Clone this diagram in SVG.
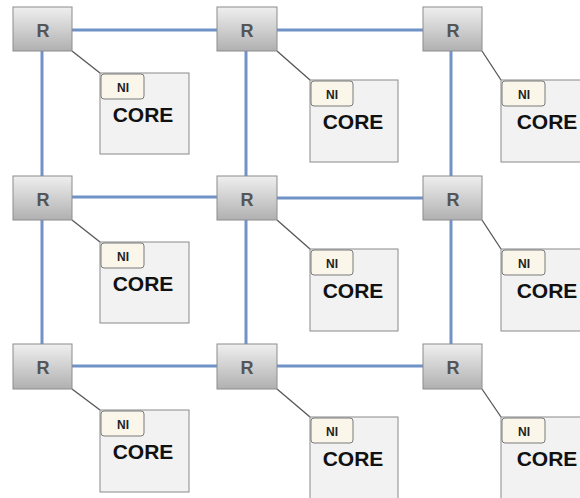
<svg xmlns="http://www.w3.org/2000/svg" width="580" height="498" viewBox="0 0 580 498">
<defs>
<linearGradient id="rg" x1="0" y1="0" x2="0" y2="1">
<stop offset="0" stop-color="#efefef"/>
<stop offset="1" stop-color="#b0b0b0"/>
</linearGradient>
</defs>
<style>
.link{stroke:#7092c6;stroke-width:3;fill:none}
.tie{stroke:#555;stroke-width:1.3;fill:none}
.router{fill:url(#rg);stroke:#8c8c8c;stroke-width:1}
.rt{font-family:"Liberation Sans",Arial,sans-serif;font-weight:bold;font-size:18px;fill:#555;text-anchor:middle}
.core{fill:#f2f2f2;stroke:#8a8a8a;stroke-width:1}
.ni{fill:#faf6ea;stroke:#7a7a7a;stroke-width:1}
.nt{font-family:"Liberation Sans",Arial,sans-serif;font-weight:bold;font-size:12px;fill:#222;text-anchor:middle}
.ct{font-family:"Liberation Sans",Arial,sans-serif;font-weight:bold;font-size:21px;fill:#111;text-anchor:middle}
</style>
<rect width="580" height="498" fill="#fff"/>
<g id="connectors">
<line class="link" x1="72" y1="30" x2="217" y2="30"/>
<line class="link" x1="277" y1="30" x2="423" y2="30"/>
<line class="link" x1="72" y1="197" x2="217" y2="197"/>
<line class="link" x1="277" y1="198" x2="423" y2="198"/>
<line class="link" x1="72" y1="366" x2="217" y2="366"/>
<line class="link" x1="277" y1="366" x2="423" y2="366"/>
<line class="link" x1="42" y1="51" x2="42" y2="176"/>
<line class="link" x1="42" y1="220" x2="42" y2="344"/>
<line class="link" x1="246" y1="51" x2="246" y2="176"/>
<line class="link" x1="246" y1="220" x2="246" y2="344"/>
<line class="link" x1="451" y1="51" x2="451" y2="176"/>
<line class="link" x1="451" y1="220" x2="451" y2="344"/>
<line class="tie" x1="72" y1="51" x2="100" y2="73"/>
<line class="tie" x1="277" y1="51" x2="310" y2="80"/>
<line class="tie" x1="482" y1="51" x2="501" y2="80"/>
<line class="tie" x1="72" y1="220" x2="100" y2="242"/>
<line class="tie" x1="277" y1="220" x2="310" y2="249"/>
<line class="tie" x1="482" y1="220" x2="501" y2="249"/>
<line class="tie" x1="72" y1="389" x2="100" y2="410"/>
<line class="tie" x1="277" y1="389" x2="310" y2="417"/>
<line class="tie" x1="482" y1="389" x2="501" y2="417"/>
</g>
<g id="r00"><rect class="router" x="13" y="7" width="59" height="44"/><text class="rt" x="43" y="37">R</text></g>
<g id="r01"><rect class="router" x="217" y="7" width="60" height="44"/><text class="rt" x="247" y="37">R</text></g>
<g id="r02"><rect class="router" x="423" y="7" width="59" height="44"/><text class="rt" x="453" y="37">R</text></g>
<g id="r10"><rect class="router" x="13" y="176" width="59" height="44"/><text class="rt" x="43" y="206">R</text></g>
<g id="r11"><rect class="router" x="217" y="176" width="60" height="44"/><text class="rt" x="247" y="206">R</text></g>
<g id="r12"><rect class="router" x="423" y="176" width="59" height="44"/><text class="rt" x="453" y="206">R</text></g>
<g id="r20"><rect class="router" x="13" y="344" width="59" height="45"/><text class="rt" x="43" y="374">R</text></g>
<g id="r21"><rect class="router" x="217" y="344" width="60" height="45"/><text class="rt" x="247" y="374">R</text></g>
<g id="r22"><rect class="router" x="423" y="344" width="59" height="45"/><text class="rt" x="453" y="374">R</text></g>
<g id="c00"><rect class="core" x="100" y="73" width="89" height="81"/><rect class="ni" x="101" y="74" width="43" height="25" rx="3"/><text class="nt" x="123" y="92">NI</text><text class="ct" x="143" y="122">CORE</text></g>
<g id="c01"><rect class="core" x="310" y="80" width="88" height="82"/><rect class="ni" x="311" y="81" width="42" height="25" rx="3"/><text class="nt" x="332" y="99">NI</text><text class="ct" x="353" y="129">CORE</text></g>
<g id="c02"><rect class="core" x="501" y="80" width="89" height="82"/><rect class="ni" x="502" y="81" width="43" height="25" rx="3"/><text class="nt" x="524" y="99">NI</text><text class="ct" x="547" y="129">CORE</text></g>
<g id="c10"><rect class="core" x="100" y="242" width="89" height="81"/><rect class="ni" x="101" y="243" width="43" height="25" rx="3"/><text class="nt" x="123" y="261">NI</text><text class="ct" x="143" y="291">CORE</text></g>
<g id="c11"><rect class="core" x="310" y="249" width="88" height="82"/><rect class="ni" x="311" y="250" width="42" height="25" rx="3"/><text class="nt" x="332" y="268">NI</text><text class="ct" x="353" y="298">CORE</text></g>
<g id="c12"><rect class="core" x="501" y="249" width="89" height="82"/><rect class="ni" x="502" y="250" width="43" height="25" rx="3"/><text class="nt" x="524" y="268">NI</text><text class="ct" x="547" y="298">CORE</text></g>
<g id="c20"><rect class="core" x="100" y="410" width="89" height="82"/><rect class="ni" x="101" y="411" width="43" height="25" rx="3"/><text class="nt" x="123" y="429">NI</text><text class="ct" x="143" y="459">CORE</text></g>
<g id="c21"><rect class="core" x="310" y="417" width="88" height="82"/><rect class="ni" x="311" y="418" width="42" height="25" rx="3"/><text class="nt" x="332" y="436">NI</text><text class="ct" x="353" y="466">CORE</text></g>
<g id="c22"><rect class="core" x="501" y="417" width="89" height="82"/><rect class="ni" x="502" y="418" width="43" height="25" rx="3"/><text class="nt" x="524" y="436">NI</text><text class="ct" x="547" y="466">CORE</text></g>
</svg>
